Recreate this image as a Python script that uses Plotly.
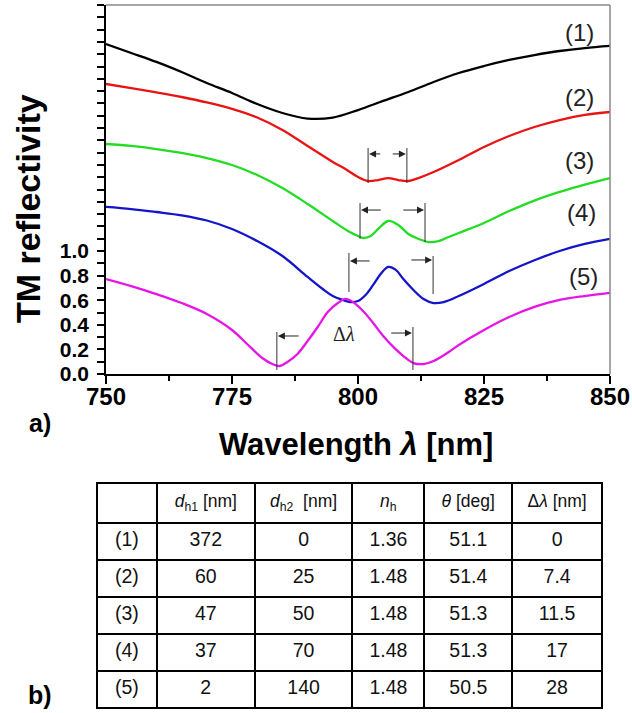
import plotly.graph_objects as go

# ---- Spectra: TM reflectivity vs wavelength, curves stacked with offsets ----
wl_1 = [750, 755, 760, 765, 770, 775, 780, 785, 790, 795, 800, 805, 810, 815,
        820, 825, 830, 835, 840, 845, 850]
r_1 = [2.683, 2.610, 2.537, 2.455, 2.366, 2.285, 2.195, 2.122, 2.077, 2.085,
       2.146, 2.220, 2.293, 2.374, 2.447, 2.504, 2.553, 2.593, 2.626, 2.650, 2.667]

wl_2 = [750, 755, 760, 765, 770, 775, 780, 785, 790, 795, 797.5, 800, 802, 804,
        806, 808, 810, 812, 815, 820, 825, 830, 835, 840, 845, 850]
r_2 = [2.358, 2.325, 2.290, 2.252, 2.208, 2.155, 2.085, 1.984, 1.854, 1.724,
       1.667, 1.602, 1.569, 1.577, 1.593, 1.577, 1.569, 1.593, 1.642, 1.740,
       1.846, 1.935, 2.008, 2.065, 2.106, 2.130]

wl_3 = [750, 755, 760, 765, 770, 775, 780, 785, 790, 795, 798, 800, 801, 802.5,
        804, 806, 808, 810, 812, 814, 816, 818, 820, 825, 830, 835, 840, 845, 850]
r_3 = [1.870, 1.854, 1.829, 1.797, 1.756, 1.699, 1.618, 1.512, 1.382, 1.244,
       1.163, 1.122, 1.106, 1.122, 1.179, 1.244, 1.211, 1.138, 1.098, 1.073,
       1.081, 1.114, 1.146, 1.228, 1.325, 1.410, 1.480, 1.540, 1.593]

wl_4 = [750, 755, 760, 765, 770, 775, 780, 785, 790, 793, 795, 797, 798.5, 800,
        801.5, 803, 804.5, 806, 807.5, 809, 811, 813, 815, 817, 820, 825, 830,
        835, 840, 845, 850]
r_4 = [1.358, 1.341, 1.317, 1.290, 1.248, 1.179, 1.081, 0.959, 0.789, 0.691,
       0.634, 0.602, 0.585, 0.593, 0.642, 0.724, 0.813, 0.870, 0.846, 0.772,
       0.683, 0.610, 0.577, 0.585, 0.634, 0.732, 0.837, 0.925, 1.000, 1.057, 1.098]

wl_5 = [750, 755, 760, 765, 770, 775, 778, 781, 783, 784.5, 786, 788, 790, 792,
        794, 796, 797.5, 799, 801, 803, 805, 807, 809, 811, 813, 815, 818, 820,
        825, 830, 835, 840, 845, 850]
r_5 = [0.772, 0.715, 0.650, 0.577, 0.488, 0.358, 0.244, 0.130, 0.081, 0.065,
       0.098, 0.163, 0.268, 0.382, 0.504, 0.577, 0.610, 0.585, 0.512, 0.415,
       0.309, 0.220, 0.146, 0.089, 0.081, 0.106, 0.179, 0.236, 0.358, 0.463,
       0.545, 0.602, 0.634, 0.659]

curve_names = ["(1)", "(2)", "(3)", "(4)", "(5)"]
curve_colors = ["#000000", "#e81414", "#22dd22", "#1414c8", "#e614e6"]

# Δλ brackets for curves (2)-(5): left/right dip positions
br_left = [802.0, 800.4, 798.2, 783.9]
br_right = [809.7, 813.3, 814.9, 810.9]
br_top_l = [1.837, 1.390, 0.984, 0.341]
br_top_r = [1.837, 1.390, 0.959, 0.382]
br_bot_l = [1.553, 1.100, 0.667, 0.033]
br_bot_r = [1.553, 1.073, 0.650, 0.033]
arr_y_l = [1.789, 1.333, 0.919, 0.309]
arr_y_r = [1.789, 1.333, 0.927, 0.333]
arr_tail_l = [804.7, 804.8, 802.6, 788.5]
arr_tail_r = [806.6, 808.7, 810.3, 806.3]

# curve labels
lab_x = [843.9, 843.9, 843.9, 844.4, 844.8]
lab_y = [2.780, 2.252, 1.732, 1.309, 0.789]

# y tick labels (only the lower part of the axis is labelled)
ytick_vals = [0.0, 0.2, 0.4, 0.6, 0.8, 1.0]
ytick_text = ["0.0", "0.2", "0.4", "0.6", "0.8", "1.0"]
xtick_vals = [750, 775, 800, 825, 850]

# ---- Table of structure parameters ----
tbl_header = ["", "<i>d</i><sub>h1</sub> [nm]", "<i>d</i><sub>h2</sub>  [nm]",
              "<i>n</i><sub>h</sub>", "<i>θ</i> [deg]", "Δ<i>λ</i> [nm]"]
d_h1 = [372, 60, 47, 37, 2]
d_h2 = [0, 25, 50, 70, 140]
n_h = [1.36, 1.48, 1.48, 1.48, 1.48]
theta = [51.1, 51.4, 51.3, 51.3, 50.5]
delta_lambda = [0, 7.4, 11.5, 17, 28]

W, H = 632, 713
FONT = "Arial, Liberation Sans, sans-serif"


def px_x(p):
    return p / W


def px_y(p):
    return 1 - p / H


fig = go.Figure()

for wl, r, c, name in zip([wl_1, wl_2, wl_3, wl_4, wl_5],
                          [r_1, r_2, r_3, r_4, r_5], curve_colors, curve_names):
    fig.add_trace(go.Scatter(x=wl, y=r, mode="lines", name=name,
                             line=dict(color=c, width=2.3, shape="spline", smoothing=1.0),
                             showlegend=False, hoverinfo="skip"))

shapes = []
annotations = []

# brackets marking the two reflectivity minima
for i in range(len(br_left)):
    shapes.append(dict(type="line", xref="x", yref="y", x0=br_left[i], x1=br_left[i],
                       y0=br_bot_l[i], y1=br_top_l[i], line=dict(color="#333", width=1)))
    shapes.append(dict(type="line", xref="x", yref="y", x0=br_right[i], x1=br_right[i],
                       y0=br_bot_r[i], y1=br_top_r[i], line=dict(color="#333", width=1)))
    annotations.append(dict(x=br_left[i], y=arr_y_l[i], ax=arr_tail_l[i], ay=arr_y_l[i],
                            xref="x", yref="y", axref="x", ayref="y", text="",
                            showarrow=True, arrowhead=2, arrowsize=1.4, arrowwidth=1,
                            arrowcolor="#222", standoff=1))
    annotations.append(dict(x=br_right[i], y=arr_y_r[i], ax=arr_tail_r[i], ay=arr_y_r[i],
                            xref="x", yref="y", axref="x", ayref="y", text="",
                            showarrow=True, arrowhead=2, arrowsize=1.4, arrowwidth=1,
                            arrowcolor="#222", standoff=1))

for name, x, y in zip(curve_names, lab_x, lab_y):
    annotations.append(dict(x=x, y=y, xref="x", yref="y", text=name, showarrow=False,
                            xanchor="center", yanchor="middle",
                            font=dict(family=FONT, size=24, color="#222")))

annotations.append(dict(x=797.2, y=0.325, xref="x", yref="y", text="Δ<i>λ</i>",
                        showarrow=False, xanchor="center", yanchor="middle",
                        font=dict(family="Times New Roman, Liberation Serif, serif",
                                  size=20, color="#222")))

# axis titles and panel letters
annotations.append(dict(x=px_x(356), y=px_y(444), xref="paper", yref="paper",
                        text="Wavelength <i>λ</i> [nm]", showarrow=False,
                        xanchor="center", yanchor="middle",
                        font=dict(family=FONT, size=31, color="black", weight="bold")))
annotations.append(dict(x=px_x(28), y=px_y(209), xref="paper", yref="paper",
                        text="TM reflectivity", textangle=-90, showarrow=False,
                        xanchor="center", yanchor="middle",
                        font=dict(family=FONT, size=34, color="black", weight="bold")))
annotations.append(dict(x=px_x(40), y=px_y(423), xref="paper", yref="paper", text="a)",
                        showarrow=False, xanchor="center", yanchor="middle",
                        font=dict(family=FONT, size=25, color="black", weight="bold")))
annotations.append(dict(x=px_x(40), y=px_y(695), xref="paper", yref="paper", text="b)",
                        showarrow=False, xanchor="center", yanchor="middle",
                        font=dict(family=FONT, size=25, color="black", weight="bold")))

# top and right frame lines
shapes.append(dict(type="line", xref="x domain", yref="y domain", x0=0, x1=1, y0=1, y1=1,
                   line=dict(color="#888", width=1.5)))
shapes.append(dict(type="line", xref="x domain", yref="y domain", x0=1, x1=1, y0=0, y1=1,
                   line=dict(color="#888", width=1.5)))

# table
fig.add_trace(go.Table(
    domain=dict(x=[px_x(97), px_x(603)], y=[px_y(710), px_y(483)]),
    columnwidth=[60, 98, 98, 72, 88, 90],
    header=dict(values=tbl_header, height=40, align="center",
                line=dict(color="black", width=2), fill=dict(color="white"),
                font=dict(family=FONT, size=17.5, color="#111")),
    cells=dict(values=[curve_names, [str(v) for v in d_h1], [str(v) for v in d_h2],
                       [f"{v:.2f}" for v in n_h], [f"{v:.1f}" for v in theta],
                       [f"{v:g}" for v in delta_lambda]],
               height=37, align="center", line=dict(color="black", width=2),
               fill=dict(color="white"),
               font=dict(family=FONT, size=19.5, color="#111")),
))

fig.update_layout(
    template="none",
    width=W, height=H, autosize=False,
    margin=dict(l=0, r=0, t=0, b=0, pad=0),
    paper_bgcolor="white", plot_bgcolor="white",
    showlegend=False,
    shapes=shapes, annotations=annotations,
    xaxis=dict(domain=[px_x(106), px_x(610)], range=[750, 850], automargin=False,
               tickmode="array", tickvals=xtick_vals, ticks="outside", ticklen=8,
               tickwidth=1.5, tickcolor="black", showgrid=False, zeroline=False,
               showline=True, linecolor="black", linewidth=1.5, ticklabelstandoff=-8,
               tickfont=dict(family=FONT, size=24, color="black", weight="bold"),
               minor=dict(dtick=12.5, tick0=750, ticks="outside", ticklen=5,
                          tickwidth=1.5, tickcolor="black", showgrid=False)),
    yaxis=dict(domain=[px_y(374), px_y(5)], range=[0, 3.0], automargin=False,
               tickmode="array", tickvals=ytick_vals, ticktext=ytick_text,
               ticks="outside", ticklen=7, tickwidth=1.5, tickcolor="black",
               showgrid=False, zeroline=False, showline=True, linecolor="black",
               linewidth=1.5, ticklabelstandoff=4,
               tickfont=dict(family=FONT, size=21, color="black", weight="bold"),
               minor=dict(dtick=0.1, tick0=0, ticks="outside", ticklen=7,
                          tickwidth=1.5, tickcolor="black", showgrid=False)),
)

fig.write_html("out.html")
